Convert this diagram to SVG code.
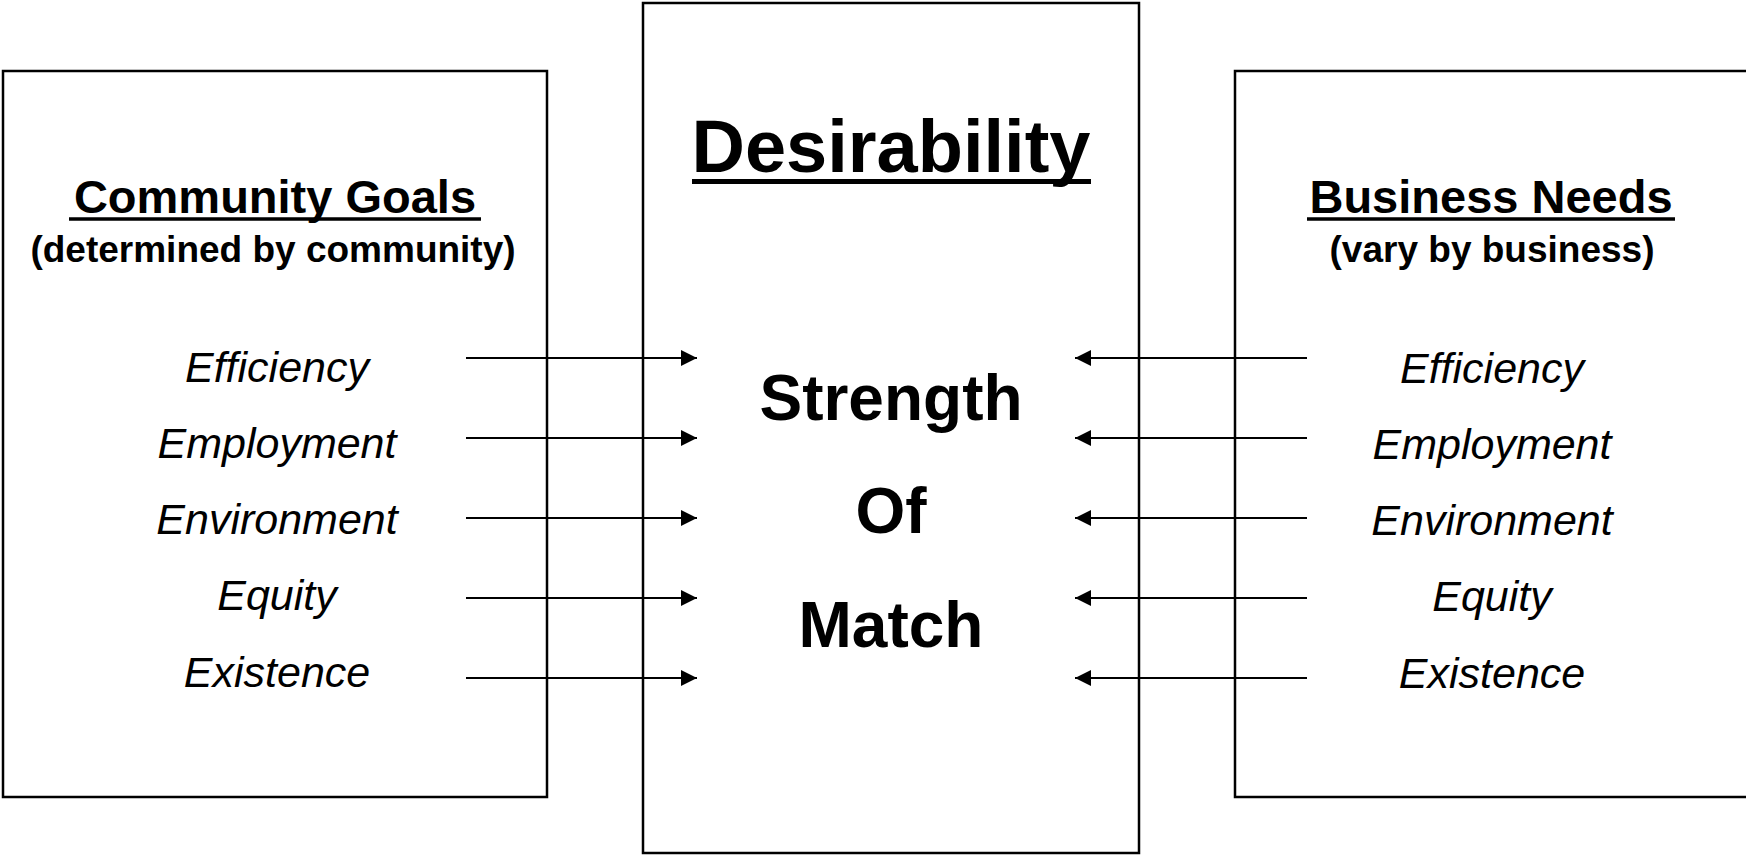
<svg xmlns="http://www.w3.org/2000/svg" width="1746" height="855" viewBox="0 0 1746 855">
  <style>
    .box { fill: #ffffff; stroke: #000000; stroke-width: 2.5; }
    .conn { stroke: #000000; stroke-width: 2; fill: none; }
    .rule { stroke: #000000; fill: none; }
    .head { font-family: "Liberation Sans", Arial, sans-serif; font-weight: bold; fill: #000; text-anchor: middle; }
    .sub { font-family: "Liberation Sans", Arial, sans-serif; font-weight: bold; font-size: 37px; fill: #000; text-anchor: middle; }
    .item { font-family: "Liberation Sans", Arial, sans-serif; font-style: italic; font-size: 43px; fill: #000; text-anchor: middle; }
    .big { font-family: "Liberation Sans", Arial, sans-serif; font-weight: bold; font-size: 64px; fill: #000; text-anchor: middle; }
  </style>
  <defs>
    <marker id="arrow" viewBox="0 0 16 16" refX="16" refY="8" markerWidth="16" markerHeight="16" markerUnits="userSpaceOnUse" orient="auto">
      <path d="M0,0 L16,8 L0,16 Z" fill="#000"/>
    </marker>
  </defs>
  <rect width="1746" height="855" fill="#ffffff"/>

  <!-- Community goals panel -->
  <g id="community-goals">
    <rect class="box" x="3" y="71" width="544" height="726"/>
    <text class="head" x="275" y="213" font-size="47">Community Goals</text>
    <line class="rule" x1="69" y1="219" x2="481" y2="219" stroke-width="3.5"/>
    <text class="sub" x="273" y="262">(determined by community)</text>
    <text class="item" x="277" y="382">Efficiency</text>
    <text class="item" x="277" y="458">Employment</text>
    <text class="item" x="277" y="534">Environment</text>
    <text class="item" x="277" y="610">Equity</text>
    <text class="item" x="277" y="687">Existence</text>
  </g>

  <!-- Business needs panel (runs past the right edge) -->
  <g id="business-needs">
    <rect class="box" x="1235" y="71" width="530" height="726"/>
    <text class="head" x="1491" y="213" font-size="47">Business Needs</text>
    <line class="rule" x1="1307" y1="219" x2="1675" y2="219" stroke-width="3.5"/>
    <text class="sub" x="1492" y="262">(vary by business)</text>
    <text class="item" x="1492" y="383">Efficiency</text>
    <text class="item" x="1492" y="459">Employment</text>
    <text class="item" x="1492" y="535">Environment</text>
    <text class="item" x="1492" y="611">Equity</text>
    <text class="item" x="1492" y="688">Existence</text>
  </g>

  <!-- Central desirability column, drawn over the side panels' edges -->
  <g id="desirability">
    <rect class="box" x="643" y="3" width="496" height="850" style="fill:none"/>
    <text class="head" x="891" y="172" font-size="74">Desirability</text>
    <line class="rule" x1="692" y1="181.5" x2="1091" y2="181.5" stroke-width="5"/>
    <text class="big" x="891" y="420">Strength</text>
    <text class="big" x="891" y="533">Of</text>
    <text class="big" x="891" y="647">Match</text>
  </g>

  <!-- Connectors: goals and needs pointing into the match column -->
  <g id="connectors">
    <line class="conn" x1="466" y1="358" x2="697" y2="358" marker-end="url(#arrow)"/>
    <line class="conn" x1="466" y1="438" x2="697" y2="438" marker-end="url(#arrow)"/>
    <line class="conn" x1="466" y1="518" x2="697" y2="518" marker-end="url(#arrow)"/>
    <line class="conn" x1="466" y1="598" x2="697" y2="598" marker-end="url(#arrow)"/>
    <line class="conn" x1="466" y1="678" x2="697" y2="678" marker-end="url(#arrow)"/>
    <line class="conn" x1="1307" y1="358" x2="1075" y2="358" marker-end="url(#arrow)"/>
    <line class="conn" x1="1307" y1="438" x2="1075" y2="438" marker-end="url(#arrow)"/>
    <line class="conn" x1="1307" y1="518" x2="1075" y2="518" marker-end="url(#arrow)"/>
    <line class="conn" x1="1307" y1="598" x2="1075" y2="598" marker-end="url(#arrow)"/>
    <line class="conn" x1="1307" y1="678" x2="1075" y2="678" marker-end="url(#arrow)"/>
  </g>
</svg>
